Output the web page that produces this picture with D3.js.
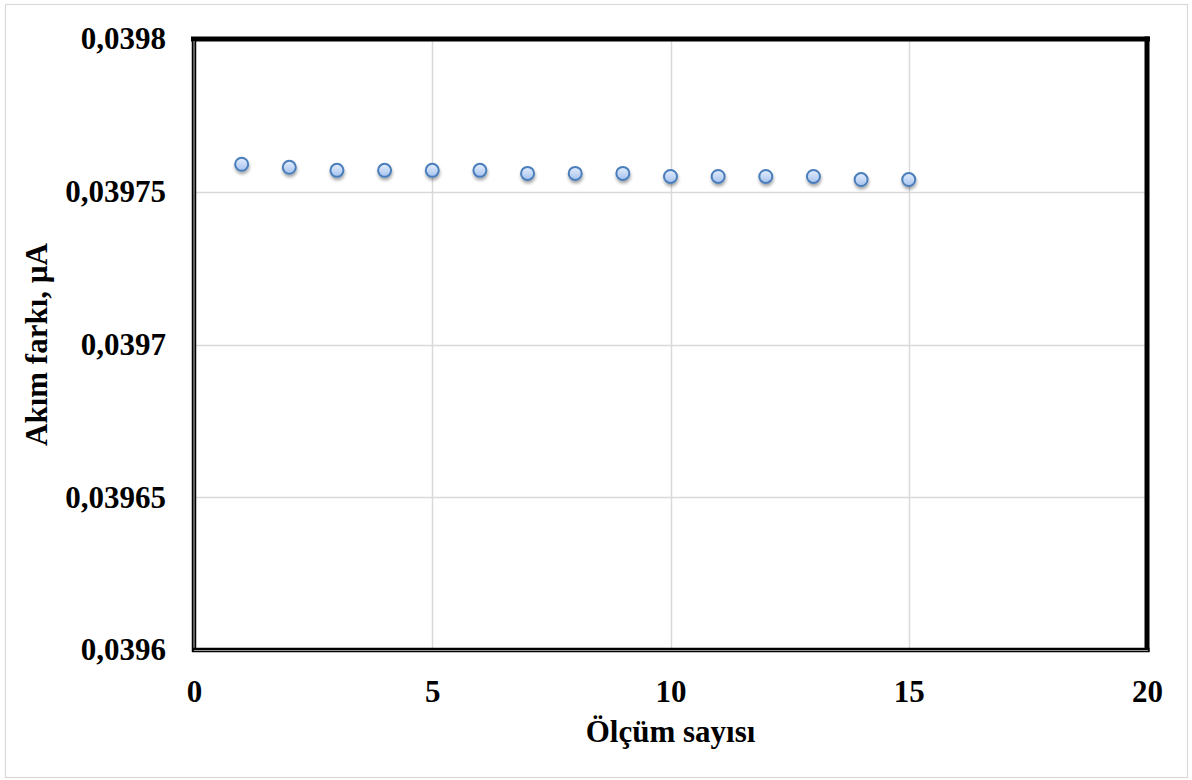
<!DOCTYPE html>
<html>
<head>
<meta charset="utf-8">
<script src="https://cdn.jsdelivr.net/npm/d3@7"></script>
<style>
  html, body { margin: 0; padding: 0; background: #fff; }
  svg text { font-family: "Liberation Serif", "Times New Roman", serif; font-weight: bold; fill: #000; }
</style>
</head>
<body>
<svg id="chart" width="1192" height="780"></svg>
<script>
// Measurement number (x) and current difference in µA (y)
const measurements = [1, 2, 3, 4, 5, 6, 7, 8, 9, 10, 11, 12, 13, 14, 15];
const currentDiff = [0.039759, 0.039758, 0.039757, 0.039757, 0.039757, 0.039757,
                     0.039756, 0.039756, 0.039756, 0.039755, 0.039755, 0.039755,
                     0.039755, 0.039754, 0.039754];
const xTicks = [0, 5, 10, 15, 20];
const yTicks = [0.0396, 0.03965, 0.0397, 0.03975, 0.0398];
const xTitle = "Ölçüm sayısı";
const yTitle = "Akım farkı, µA";

const svg = d3.select("#chart");
const plot = { left: 194, right: 1147, top: 39, bottom: 650 };

const x = d3.scaleLinear().domain([0, 20]).range([plot.left, plot.right]);
const y = d3.scaleLinear().domain([0.0396, 0.0398]).range([plot.bottom, plot.top]);

// Outer chart border
svg.append("rect")
  .attr("x", 5.5).attr("y", 4.5).attr("width", 1182).attr("height", 773)
  .attr("fill", "#fff").attr("stroke", "#d9d9d9").attr("stroke-width", 1.2);

const defs = svg.append("defs");
const grad = defs.append("linearGradient").attr("id", "markerFill")
  .attr("x1", 0).attr("y1", 0).attr("x2", 0).attr("y2", 1);
grad.append("stop").attr("offset", "0%").attr("stop-color", "#e4eefc");
grad.append("stop").attr("offset", "100%").attr("stop-color", "#a6c2ef");
const shadow = defs.append("filter").attr("id", "markerShadow")
  .attr("x", "-50%").attr("y", "-50%").attr("width", "200%").attr("height", "200%");
shadow.append("feDropShadow").attr("dx", 0.5).attr("dy", 2.5).attr("stdDeviation", 1.6)
  .attr("flood-color", "#000").attr("flood-opacity", 0.35);

// Gridlines
const grid = svg.append("g");
grid.selectAll("line.gx").data(xTicks.slice(1, -1)).join("line")
  .attr("x1", d => Math.round(x(d)) + 0.5).attr("x2", d => Math.round(x(d)) + 0.5)
  .attr("y1", plot.top).attr("y2", plot.bottom)
  .attr("stroke", "#d9d9d9").attr("stroke-width", 1.5);
grid.selectAll("line.gy").data(yTicks.slice(1, -1)).join("line")
  .attr("y1", d => Math.round(y(d)) + 0.5).attr("y2", d => Math.round(y(d)) + 0.5)
  .attr("x1", plot.left).attr("x2", plot.right)
  .attr("stroke", "#d9d9d9").attr("stroke-width", 1.5);

// Axes (labels only; the frame is drawn separately)
const fmt = d => String(d).replace(".", ",");
const xAxis = svg.append("g").attr("transform", `translate(0,${plot.bottom})`)
  .call(d3.axisBottom(x).tickValues(xTicks).tickSize(0).tickPadding(30).tickFormat(d => d));
const yAxis = svg.append("g").attr("transform", `translate(${plot.left},0)`)
  .call(d3.axisLeft(y).tickValues(yTicks).tickSize(0).tickPadding(28).tickFormat(fmt));
[xAxis, yAxis].forEach(g => {
  g.select(".domain").remove();
  g.selectAll("text").attr("font-size", 31)
    .attr("font-family", "Liberation Serif, Times New Roman, serif").attr("font-weight", "bold");
});

// Plot frame: heavy top/right edges, double-lined left/bottom edges
const frame = svg.append("g").attr("fill", "none");
frame.append("line").attr("x1", plot.left - 3).attr("x2", plot.right + 3)
  .attr("y1", plot.top).attr("y2", plot.top).attr("stroke", "#000").attr("stroke-width", 5);
frame.append("line").attr("x1", plot.right).attr("x2", plot.right)
  .attr("y1", plot.top - 2.5).attr("y2", plot.bottom + 2).attr("stroke", "#000").attr("stroke-width", 5);
frame.append("line").attr("x1", plot.left).attr("x2", plot.left)
  .attr("y1", plot.top).attr("y2", plot.bottom + 2).attr("stroke", "#000").attr("stroke-width", 4.5);
frame.append("line").attr("x1", plot.left).attr("x2", plot.left)
  .attr("y1", plot.top + 2).attr("y2", plot.bottom).attr("stroke", "#9a9a9a").attr("stroke-width", 1.2);
frame.append("line").attr("x1", plot.left - 2).attr("x2", plot.right + 2.5)
  .attr("y1", plot.bottom).attr("y2", plot.bottom).attr("stroke", "#000").attr("stroke-width", 4.5);
frame.append("line").attr("x1", plot.left).attr("x2", plot.right + 1)
  .attr("y1", plot.bottom + 0.5).attr("y2", plot.bottom + 0.5).attr("stroke", "#9a9a9a").attr("stroke-width", 1.2);

// Data markers
svg.append("g").selectAll("circle")
  .data(measurements.map((m, i) => ({ m, v: currentDiff[i] })))
  .join("circle")
  .attr("cx", d => x(d.m)).attr("cy", d => y(d.v)).attr("r", 6.5)
  .attr("fill", "url(#markerFill)").attr("stroke", "#4a7ebb").attr("stroke-width", 2)
  .attr("filter", "url(#markerShadow)");

// Axis titles
svg.append("text").attr("x", (plot.left + plot.right) / 2).attr("y", 742)
  .attr("text-anchor", "middle").attr("font-size", 31).text(xTitle);
svg.append("text")
  .attr("transform", `translate(47,${(plot.top + plot.bottom) / 2}) rotate(-90)`)
  .attr("text-anchor", "middle").attr("font-size", 31).text(yTitle);
</script>
</body>
</html>
